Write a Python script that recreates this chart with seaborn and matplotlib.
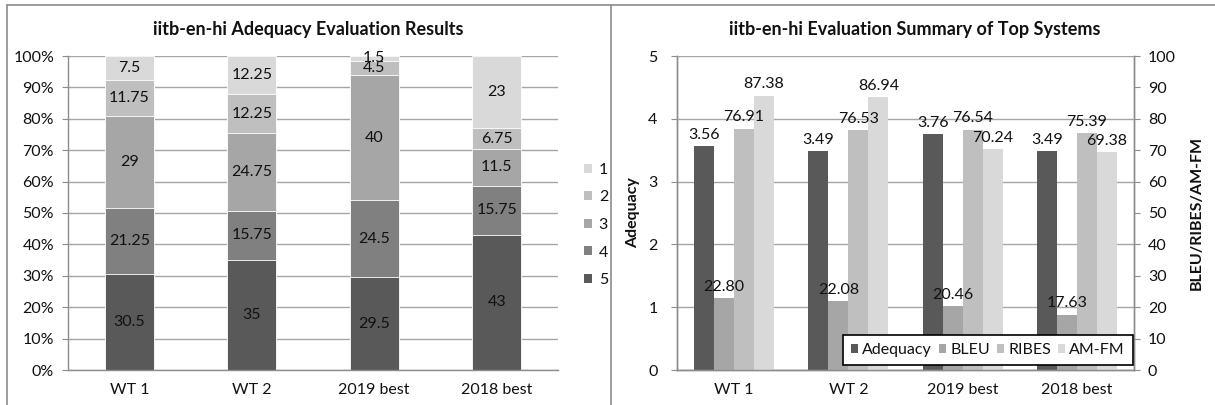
import matplotlib
matplotlib.use("Agg")
import matplotlib.pyplot as plt
from matplotlib.lines import Line2D
from matplotlib.patches import Patch
import seaborn as sns
import numpy as np
import pandas as pd

# ---------------- data ----------------
systems = ["WT 1", "WT 2", "2019 best", "2018 best"]
score_levels = ["5", "4", "3", "2", "1"]          # bottom -> top
score5 = [30.5, 35, 29.5, 43]
score4 = [21.25, 15.75, 24.5, 15.75]
score3 = [29, 24.75, 40, 11.5]
score2 = [11.75, 12.25, 4.5, 6.75]
score1 = [7.5, 12.25, 1.5, 23]

metrics = ["Adequacy", "BLEU", "RIBES", "AM-FM"]
adequacy = [3.56, 3.49, 3.76, 3.49]
bleu = [22.80, 22.08, 20.46, 17.63]
ribes = [76.91, 76.53, 76.54, 75.39]
amfm = [87.38, 86.94, 70.24, 69.38]

left_title = "iitb-en-hi Adequacy Evaluation Results"
right_title = "iitb-en-hi Evaluation Summary of Top Systems"

# ---------------- style ----------------
sns.set_style("white")
plt.rcParams["font.family"] = ["Lato", "DejaVu Sans"]
TXT = "#111111"
GRID = "#a6a6a6"
SPINE = "#8c8c8c"
FS = 11.5

level_colors = {"5": "#595959", "4": "#808080", "3": "#a6a6a6",
                "2": "#bfbfbf", "1": "#d9d9d9"}
metric_colors = {"Adequacy": "#595959", "BLEU": "#a6a6a6",
                 "RIBES": "#bfbfbf", "AM-FM": "#d9d9d9"}

W, H = 1215, 405
fig = plt.figure(figsize=(W / 100, H / 100), dpi=100)

def fx(px):
    return px / W

def fy(py):
    return 1 - py / H

ax1 = fig.add_axes([fx(68), fy(370), fx(558) - fx(68), fy(56) - fy(370)])
ax2 = fig.add_axes([fx(677), fy(370), fx(1134) - fx(677), fy(56) - fy(370)])

# ---------------- left: stacked percent bars ----------------
segs = {"5": score5, "4": score4, "3": score3, "2": score2, "1": score1}
stack = np.vstack([segs[l] for l in score_levels])  # bottom->top
cum = np.cumsum(stack, axis=0)
for i in range(len(score_levels) - 1, -1, -1):
    lvl = score_levels[i]
    df = pd.DataFrame({"system": systems, "value": cum[i]})
    sns.barplot(data=df, x="system", y="value", order=systems,
                color=level_colors[lvl], width=0.4, ax=ax1,
                edgecolor="white", linewidth=0.6, saturation=1, zorder=2)

for j in range(len(systems)):
    for i, lvl in enumerate(score_levels):
        v = stack[i, j]
        below = cum[i, j] - v
        ax1.text(j, below + v / 2, f"{v:g}", ha="center", va="center",
                 fontsize=FS, color=TXT, zorder=5)

ax1.set_xlim(-0.5, 3.5)
ax1.set_ylim(0, 100)
ax1.set_yticks(np.arange(0, 101, 10))
ax1.set_yticklabels([f"{t}%" for t in range(0, 101, 10)])
ax1.set_xlabel("")
ax1.set_ylabel("")
ax1.yaxis.grid(True, color=GRID, linewidth=1)
ax1.set_axisbelow(True)
for s in ["top", "right"]:
    ax1.spines[s].set_visible(False)
for s in ["left", "bottom"]:
    ax1.spines[s].set_color(SPINE)
    ax1.spines[s].set_linewidth(1)
ax1.set_xticks(np.arange(-0.5, 4, 1), minor=True)
ax1.tick_params(axis="x", which="major", length=0, pad=9, labelsize=FS, colors=TXT)
ax1.tick_params(axis="x", which="minor", length=4, color=SPINE, direction="out")
ax1.tick_params(axis="y", which="major", length=4, color=SPINE, pad=6,
                labelsize=FS, labelcolor=TXT, left=True)

leg_handles = [Patch(facecolor=level_colors[l], edgecolor="none") for l in ["1", "2", "3", "4", "5"]]
leg1 = ax1.legend(leg_handles, ["1", "2", "3", "4", "5"], loc="center left",
                  bbox_to_anchor=(fx(578), fy(225)), bbox_transform=fig.transFigure,
                  frameon=False, fontsize=FS, handlelength=0.5, handleheight=0.5,
                  handletextpad=0.4, labelspacing=0.85, borderaxespad=0)
for t in leg1.get_texts():
    t.set_color(TXT)

# ---------------- right: grouped bars with twin axis ----------------
ax2r = ax2.twinx()
df_l = pd.DataFrame({"system": systems, "metric": "Adequacy", "value": adequacy})
sns.barplot(data=df_l, x="system", y="value", hue="metric", order=systems,
            hue_order=metrics, palette=metric_colors, width=0.7, ax=ax2,
            dodge=True, saturation=1, legend=False, linewidth=0, zorder=2)
df_r = pd.DataFrame({
    "system": systems * 3,
    "metric": ["BLEU"] * 4 + ["RIBES"] * 4 + ["AM-FM"] * 4,
    "value": bleu + ribes + amfm,
})
sns.barplot(data=df_r, x="system", y="value", hue="metric", order=systems,
            hue_order=metrics, palette=metric_colors, width=0.7, ax=ax2r,
            dodge=True, saturation=1, legend=False, linewidth=0, zorder=2)

# labels for Adequacy bars are added to the top axes so they stay visible
for c in ax2.containers:
    for bar in c:
        h = bar.get_height()
        ax2r.annotate(f"{h:.2f}", xy=(bar.get_x() + bar.get_width() / 2, h),
                      xycoords=ax2.transData, xytext=(0, 3), textcoords="offset points",
                      ha="center", va="bottom", fontsize=FS, color=TXT, zorder=5)
for c in ax2r.containers:
    ax2r.bar_label(c, fmt="%.2f", padding=3, fontsize=FS, color=TXT, zorder=5)

ax2.set_xlim(-0.5, 3.5)
ax2.set_ylim(0, 5)
ax2r.set_ylim(0, 100)
ax2.set_yticks(range(0, 6))
ax2r.set_yticks(range(0, 101, 10))
ax2.set_xlabel("")
ax2.set_ylabel("Adequacy", fontsize=FS, fontweight="bold", color=TXT, labelpad=6)
ax2r.set_ylabel("BLEU/RIBES/AM-FM", fontsize=FS, fontweight="bold", color=TXT, labelpad=10)
ax2.yaxis.grid(True, color=GRID, linewidth=1)
ax2.set_axisbelow(True)
ax2r.grid(False)
for a in (ax2, ax2r):
    a.spines["top"].set_visible(False)
    for s in ["left", "right", "bottom"]:
        a.spines[s].set_color(SPINE)
        a.spines[s].set_linewidth(1)
ax2.set_xticks(np.arange(-0.5, 4, 1), minor=True)
ax2.tick_params(axis="x", which="major", length=0, pad=9, labelsize=FS, colors=TXT)
ax2.tick_params(axis="x", which="minor", length=4, color=SPINE, direction="out")
ax2.tick_params(axis="y", length=4, color=SPINE, pad=10, labelsize=FS,
                labelcolor=TXT, left=True)
ax2r.tick_params(axis="y", length=4, color=SPINE, pad=6, labelsize=FS,
                 labelcolor=TXT, right=True)

leg_h2 = [Patch(facecolor=metric_colors[m], edgecolor="none") for m in metrics]
leg2 = ax2r.legend(leg_h2, metrics, loc="lower right", ncol=4,
                   bbox_to_anchor=(fx(1133), fy(365)), bbox_transform=fig.transFigure,
                   frameon=True, fancybox=False, edgecolor="black", framealpha=1,
                   fontsize=FS, handlelength=0.45, handleheight=0.45,
                   handletextpad=0.25, columnspacing=0.45, borderpad=0.5,
                   borderaxespad=0)
leg2.get_frame().set_linewidth(1.2)
leg2.set_zorder(10)
for t in leg2.get_texts():
    t.set_color(TXT)

# ---------------- titles ----------------
fig.text(fx(308), fy(29), left_title, ha="center", va="center",
         fontsize=13, fontweight="bold", color=TXT)
fig.text(fx(915), fy(29), right_title, ha="center", va="center",
         fontsize=13, fontweight="bold", color=TXT)

# ---------------- panel borders ----------------
bc = "#8c8c8c"
fig.add_artist(Line2D([fx(7), fx(7)], [fy(5), 0], color=bc, linewidth=1.2))
fig.add_artist(Line2D([fx(7), 1], [fy(5), fy(5)], color=bc, linewidth=1.2))
fig.add_artist(Line2D([fx(611), fx(611)], [fy(5), 0], color=bc, linewidth=1.2))

fig.savefig("out.png", dpi=100, facecolor="white")
